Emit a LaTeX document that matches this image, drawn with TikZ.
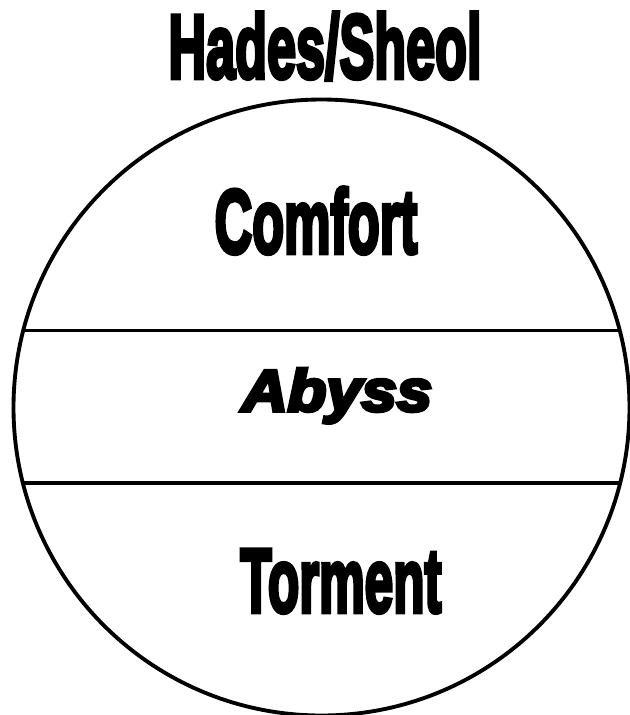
\documentclass[tikz,border=0pt]{standalone}
\usepackage{fontspec}
\usepackage{graphicx}
\newfontfamily\heavyfont[FakeBold=5]{Liberation Sans Bold}
\newfontfamily\abyssfont[FakeBold=6]{Liberation Sans Bold Italic}
\tikzset{
  outline/.style={line width=2.9pt, draw=black},
  divider/.style={line width=2.6pt, draw=black},
  bigword/.style={anchor=base, inner sep=0pt, font=\heavyfont\fontsize{68}{68}\selectfont},
  midword/.style={anchor=base, inner sep=0pt, font=\abyssfont\fontsize{44}{44}\selectfont}
}
\begin{document}
\begin{tikzpicture}[x=0.75pt,y=-0.75pt]
\useasboundingbox (0,0) rectangle (630,715);
\coordinate (c) at (321.5,407.5);
\draw[outline] (c) circle[radius=308*0.75pt];
\coordinate (l1) at (23.3,330.5);
\coordinate (r1) at (619.7,330.5);
\coordinate (l2) at (22.9,483);
\coordinate (r2) at (620.1,483);
\draw[divider] (l1) -- (r1);
\draw[divider] (l2) -- (r2);
\node[bigword] (title) at (325,78) {\scalebox{0.575}[1]{Hades/Sheol}};
\node[bigword] (comfort) at (316,253) {\scalebox{0.575}[1]{Comfort}};
\node[midword] (abyss) at (337,411) {\scalebox{1.08}[1]{Abyss}};
\node[bigword] (torment) at (341,612) {\scalebox{0.565}[1]{Torment}};
\end{tikzpicture}
\end{document}
